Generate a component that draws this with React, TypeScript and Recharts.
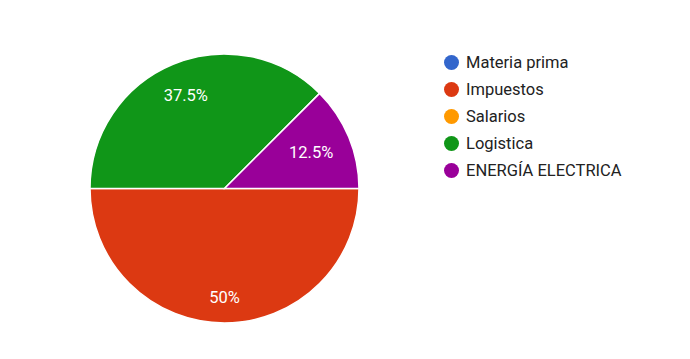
import { PieChart, Pie, Cell } from "recharts";

const categories = ["Materia prima", "Impuestos", "Salarios", "Logistica", "ENERGÍA ELECTRICA"];
const shares = [0, 50, 0, 37.5, 12.5];
const sliceLabels = ["0%", "50%", "0%", "37.5%", "12.5%"];
const colors = ["#3366cc", "#dc3912", "#ff9900", "#109618", "#990099"];

const data = categories.map((name, i) => ({ name, value: shares[i] }));

const RADIAN = Math.PI / 180;
const FONT = 16.5;

// rough Roboto advance widths, in em
function textWidth(s: string) {
  let w = 0;
  for (const ch of s) w += ch === "." ? 0.26 : ch === "%" ? 0.73 : 0.56;
  return w * FONT;
}

// put the label box so that its outer corner sits on a fixed radius
function renderLabel(props: any) {
  const { cx, cy, midAngle, outerRadius, index } = props;
  if (!shares[index]) return null;
  const text = sliceLabels[index];
  const R = outerRadius - 18;
  const ux = Math.cos(-midAngle * RADIAN);
  const uy = Math.sin(-midAngle * RADIAN);
  const a = (ux < 0 ? -1 : 1) * textWidth(text) / 2;
  const b = (uy < 0 ? -1 : 1) * 6;
  const p = ux * a + uy * b;
  const t = -p + Math.sqrt(p * p - (a * a + b * b - R * R));
  return (
    <text x={cx + t * ux} y={cy + t * uy} fill="#ffffff" textAnchor="middle" dominantBaseline="central" fontSize={FONT} fontFamily="Roboto">
      {text}
    </text>
  );
}

function LegendList() {
  return (
    <div style={{ position: "absolute", left: 444, top: 48.5, fontFamily: "Roboto", fontSize: FONT, color: "#222" }}>
      {categories.map((name, i) => (
        <div key={name} style={{ display: "flex", alignItems: "center", height: 27 }}>
          <span style={{ width: 15, height: 15, borderRadius: "50%", background: colors[i], marginRight: 7, flexShrink: 0 }} />
          <span>{name}</span>
        </div>
      ))}
    </div>
  );
}

export default function App() {
  return (
    <div style={{ position: "relative", width: 690, height: 359, background: "#fff" }}>
      <style>{"body{margin:0}"}</style>
      <PieChart width={690} height={359} margin={{ top: 0, right: 0, bottom: 0, left: 0 }}>
        <Pie
          data={data}
          dataKey="value"
          nameKey="name"
          cx={224.5}
          cy={188.5}
          outerRadius={134.5}
          startAngle={0}
          endAngle={-360}
          stroke="#ffffff"
          strokeWidth={1.5}
          labelLine={false}
          label={renderLabel}
          isAnimationActive={false}
        >
          {data.map((entry, i) => (
            <Cell key={entry.name} fill={colors[i]} />
          ))}
        </Pie>
      </PieChart>
      <LegendList />
    </div>
  );
}
